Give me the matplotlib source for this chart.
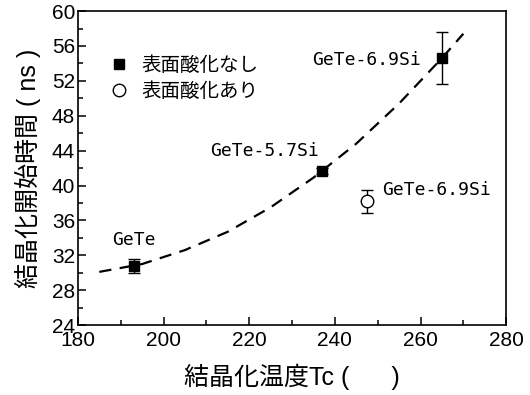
import numpy as np
import matplotlib
matplotlib.use('Agg')
from matplotlib import pyplot as plt
from matplotlib.lines import Line2D
from matplotlib.ticker import MultipleLocator

plt.rcParams['font.family'] = ['Liberation Sans', 'Noto Sans CJK JP', 'DejaVu Sans']

### Data
tc_plain = [193.0, 237.1, 265.0]          # no surface oxidation
t_plain = [30.8, 41.65, 54.6]
err_plain = [0.8, 0.35, 3.0]

tc_oxid = [247.6]                          # with surface oxidation
t_oxid = [38.2]
err_oxid = [1.3]

# dashed guide curve
curve_x = [185, 195, 205, 215, 225, 235, 245, 255, 265, 270]
curve_y = [30.1, 31.0, 32.6, 34.7, 37.5, 40.9, 44.8, 49.4, 54.6, 57.4]

labels = ['GeTe', 'GeTe-5.7Si', 'GeTe-6.9Si', 'GeTe-6.9Si']
label_x = [187.9, 210.8, 234.6, 251.1]
label_y = [33.7, 43.9, 54.4, 39.5]

legend_names = ['表面酸化なし', '表面酸化あり']

fig = plt.figure(figsize=(5.3, 3.95), dpi=100)
ax = fig.add_axes([0.147, 0.177, 0.808, 0.795])

ax.plot(curve_x, curve_y, color='black', linestyle=(0, (5.5, 3.8)), linewidth=1.6)

ax.errorbar(tc_plain, t_plain, yerr=err_plain, fmt='s', color='black',
            markersize=7, capsize=4, elinewidth=1, capthick=1)
ax.errorbar(tc_oxid, t_oxid, yerr=err_oxid, fmt='o', color='black',
            markerfacecolor='white', markeredgewidth=1, markersize=9,
            capsize=4, elinewidth=1, capthick=1)

for s, x, y in zip(labels, label_x, label_y):
    ax.text(x, y, s, family='DejaVu Sans Mono', fontsize=13, ha='left', va='center')

ax.set_xlim(180, 280)
ax.set_ylim(24, 60)
ax.xaxis.set_major_locator(MultipleLocator(20))
ax.xaxis.set_minor_locator(MultipleLocator(10))
ax.yaxis.set_major_locator(MultipleLocator(4))
ax.yaxis.set_minor_locator(MultipleLocator(2))
ax.tick_params(which='both', direction='in', labelsize=15, width=1.1)
ax.tick_params(axis='x', which='both', pad=4)
ax.tick_params(axis='y', which='both', pad=2)
ax.tick_params(which='major', length=6)
ax.tick_params(which='minor', length=3.5)

for sp in ax.spines.values():
    sp.set_linewidth(1.2)

ax.set_xlabel('結晶化温度Tc (      )', fontsize=18, labelpad=10)
ax.set_ylabel('結晶化開始時間 ( ns )', fontsize=18, labelpad=8)

# legend shows markers only, no error bars
handles = [Line2D([], [], marker='s', linestyle='none', color='black', markersize=7),
           Line2D([], [], marker='o', linestyle='none', color='black',
                  markerfacecolor='white', markeredgewidth=1, markersize=9)]
leg = ax.legend(handles, legend_names, loc='upper left', bbox_to_anchor=(0.06, 0.885),
                frameon=False, handlelength=0.8, handletextpad=0.75, labelspacing=0.25,
                borderaxespad=0, prop={'family': ['Noto Sans CJK JP'], 'size': 14})

fig.savefig('out.png', dpi=100)
